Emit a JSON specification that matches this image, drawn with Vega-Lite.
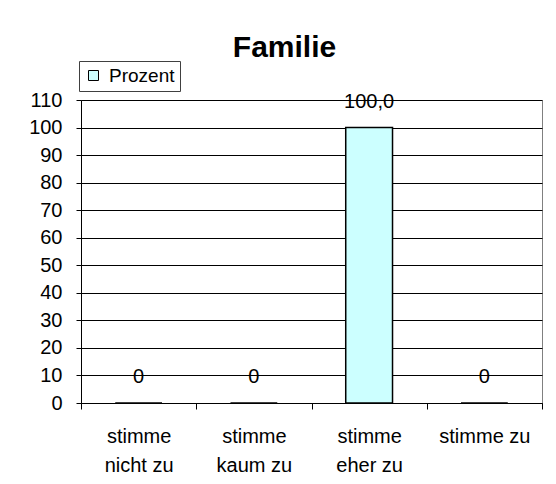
{
  "$schema": "https://vega.github.io/schema/vega-lite/v6.json",
  "autosize": {"type": "none"},
  "padding": {"left": 81, "top": 100, "right": 14, "bottom": 81},
  "width": 461,
  "height": 303,
  "background": "white",
  "config": {
    "font": "Liberation Sans",
    "view": {"stroke": "#808080", "strokeWidth": 1}
  },
  "title": {
    "text": "Familie",
    "fontSize": 30,
    "fontWeight": "bold",
    "font": "Liberation Sans",
    "color": "black",
    "frame": "group",
    "anchor": "middle",
    "dx": -27,
    "dy": 30,
    "offset": 4,
    "baseline": "alphabetic"
  },
  "data": {
    "values": [
      {"antwort": "stimme nicht zu", "prozent": 0, "label": "0"},
      {"antwort": "stimme kaum zu", "prozent": 0, "label": "0"},
      {"antwort": "stimme eher zu", "prozent": 100, "label": "100,0"},
      {"antwort": "stimme zu", "prozent": 0, "label": "0"}
    ]
  },
  "encoding": {
    "x": {
      "field": "antwort",
      "type": "nominal",
      "sort": null,
      "scale": {"paddingInner": 0, "paddingOuter": 0},
      "axis": {
        "title": null,
        "labelAngle": 0,
        "labelFontSize": 20,
        "labelColor": "black",
        "labelPadding": 17,
        "labelLineHeight": 29,
        "labelBaseline": "top",
        "labelExpr": "!isValid(datum.value) ? '' : (datum.value == 'stimme zu' ? 'stimme zu' : ['stimme', replace(datum.value, 'stimme ', '')])",
        "domainColor": "black",
        "tickColor": "black",
        "tickSize": 6,
        "tickBand": "extent",
        "grid": false
      }
    },
    "y": {
      "field": "prozent",
      "type": "quantitative",
      "scale": {"domain": [0, 110], "nice": false},
      "axis": {
        "title": null,
        "values": [0, 10, 20, 30, 40, 50, 60, 70, 80, 90, 100, 110],
        "labelFontSize": 20,
        "labelColor": "black",
        "labelPadding": 14,
        "domainColor": "black",
        "tickColor": "black",
        "tickSize": 5,
        "grid": true,
        "gridColor": "black",
        "gridOpacity": 1
      }
    }
  },
  "layer": [
    {
      "mark": {"type": "bar", "stroke": "black", "strokeWidth": 1.5, "width": {"band": 0.406}},
      "encoding": {
        "color": {
          "datum": "Prozent",
          "scale": {"range": ["#CCFFFF"]},
          "legend": {
            "title": null,
            "orient": "none",
            "legendX": -2,
            "legendY": -39,
            "strokeColor": "#404040",
            "fillColor": "white",
            "padding": 5,
            "symbolType": "square",
            "symbolSize": 100,
            "symbolStrokeColor": "black",
            "symbolStrokeWidth": 1,
            "labelFontSize": 19,
            "labelColor": "black",
            "labelOffset": 6
          }
        }
      }
    },
    {
      "mark": {"type": "text", "baseline": "middle", "dy": -26, "fontSize": 20, "color": "black"},
      "encoding": {
        "text": {"field": "label"}
      }
    }
  ]
}
